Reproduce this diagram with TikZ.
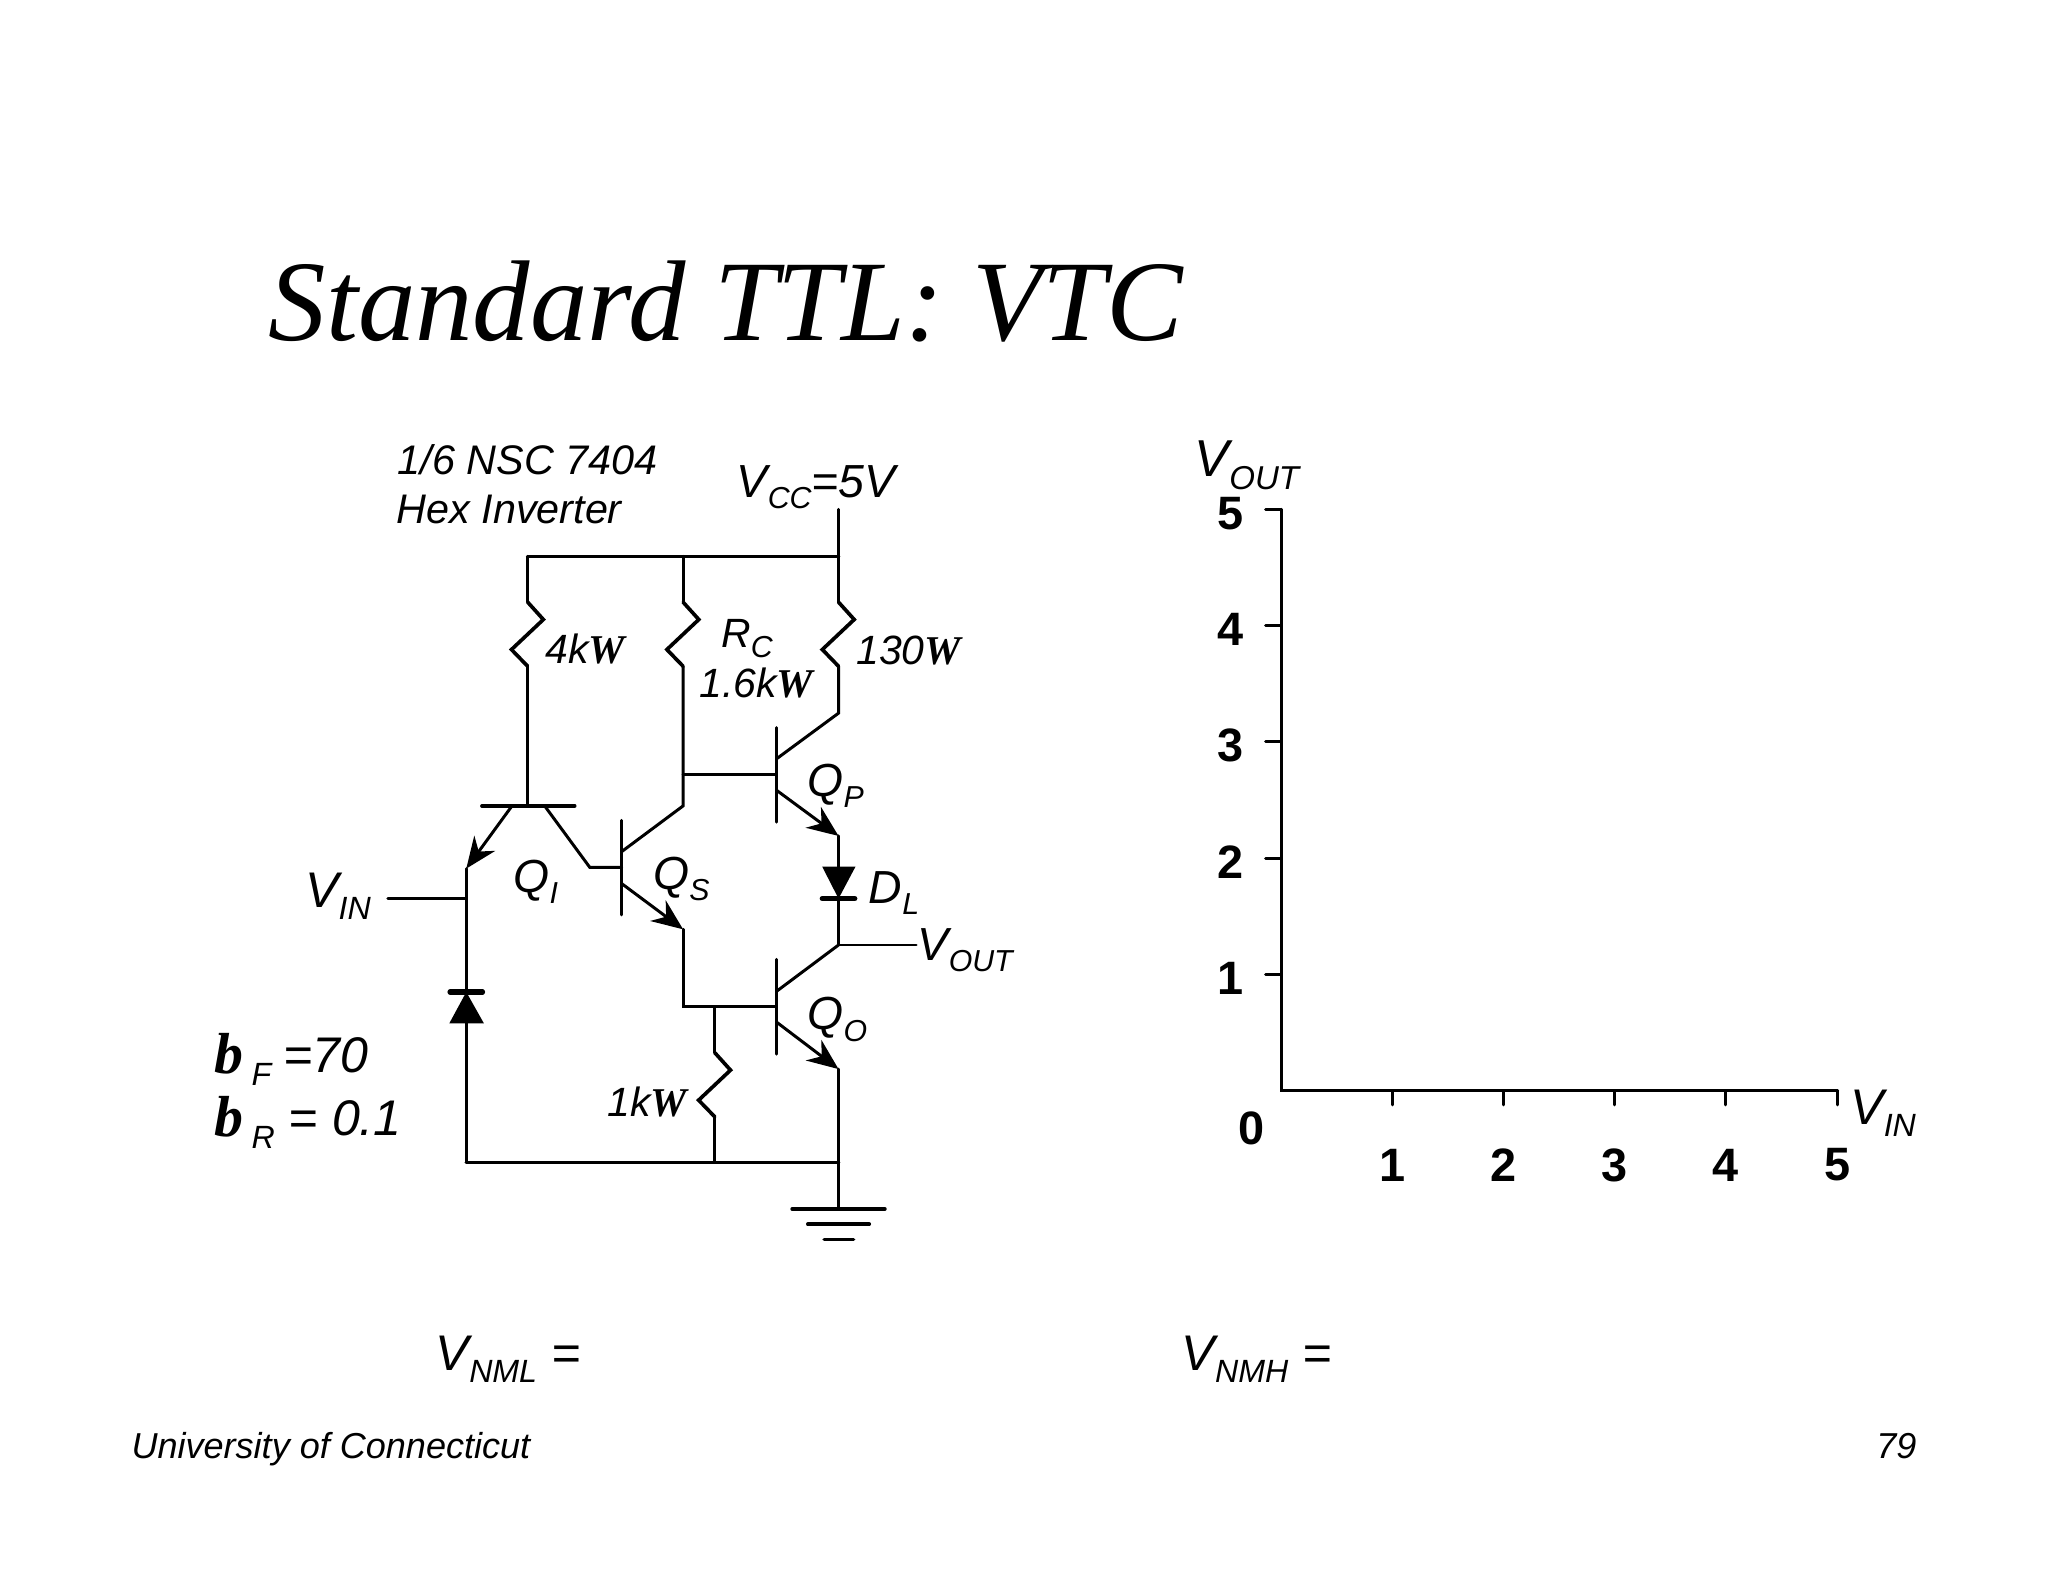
\documentclass[tikz,border=0pt]{standalone}
\usepackage{fontspec}
\setmainfont{Liberation Sans}
\newfontfamily\ttlfont{Liberation Serif}
\usetikzlibrary{arrows.meta}
\newcommand{\vsub}[3][6.6]{#2\raisebox{-0.24em}{\fontsize{#1}{8}\selectfont #3}}
\newcommand{\ohm}{{\ttlfont\bfseries W}}
\newcommand{\bsym}{{\fontsize{12.6}{14}\selectfont\ttlfont\bfseries b}\,}
\newcommand{\rzig}{-- ++(12,13.3) -- ++(-24.4,23) -- ++(12.4,12.8)}
\tikzset{
  wire/.style={black,line width=0.65pt,line cap=round,line join=miter},
  heavy/.style={black,line width=0.8pt,line cap=round},
  bar/.style={black,line width=1.1pt,line cap=round},
  emit/.style={wire,-{Stealth[length=6.8pt,width=5.6pt,inset=2.2pt]}},
  diodefill/.style={fill=black,draw=none},
  lbl/.style={anchor=base west,font=\fontsize{8.9}{10}\selectfont\itshape},
  big/.style={anchor=base west,font=\fontsize{10.1}{12}\selectfont\itshape},
  bigv/.style={anchor=base west,font=\fontsize{10.9}{12}\selectfont\itshape},
  num/.style={anchor=center,font=\fontsize{10.2}{12}\selectfont\bfseries},
  foot/.style={font=\fontsize{7.85}{10}\selectfont\itshape},
}
\begin{document}
\begin{tikzpicture}[x=0.01cm,y=-0.01cm]
            \tikzstyle{every node}+=[inner sep=0pt]
                \useasboundingbox (0,0) rectangle (1568,1211);
                \draw (205,261) node (title) [anchor=base west,font=\fontsize{25}{30}\selectfont\ttlfont\itshape] {Standard TTL: VTC};
                \draw (304,363) node (part) [lbl,font=\fontsize{9}{10}\selectfont\itshape] {1/6 NSC 7404};
                \draw (303,401) node (hex) [lbl,font=\fontsize{9}{10}\selectfont\itshape] {Hex Inverter};
                \draw (563.5,381) node (vcc) [big] {\vsub{V}{CC}=5V};
                % supply rail and the three resistors
                \coordinate (rl) at (404,426);
                \coordinate (rm) at (523,426);
                \coordinate (rr) at (642,426);
                \draw [heavy] (rl) -- (rr);
                \draw [wire] (642,390) -- (rr);
                \draw [wire] (rl) -- (404,461);
                \draw [heavy] (404,461) \rzig;
                \draw [wire] (404,510) -- (404,617);
                \draw [wire] (rm) -- (523,461);
                \draw [heavy] (523,461) \rzig;
                \draw [wire] (523,510) -- (523,617) -- (476,652);
                \draw [wire] (rr) -- (642,461);
                \draw [heavy] (642,461) \rzig;
                \draw [wire] (642,510) -- (642,546) -- (594.5,581);
                \draw (417,508) node (r4k) [lbl] {4k\ohm};
                \draw (551.5,496) node (rc) [lbl] {\vsub{R}{C}};
                \draw (535,534) node (r16k) [lbl] {1.6k\ohm};
                \draw (655,509) node (r130) [lbl] {130\ohm};
                % QP
                \draw [wire] (594.5,557) -- (594.5,629.5);
                \draw [wire] (523,593) -- (594.5,593);
                \draw [emit] (594.5,605) -- (642,640);
                \draw (617.5,610) node (qp) [big] {\vsub{Q}{P}};
                % diode DL
                \coordinate (dlt) at (642,640);
                \coordinate (dlb) at (642,688);
                \coordinate (vo) at (642,723.5);
                \draw [wire] (dlt) -- (dlb) -- (vo) -- (701.5,723.5);
                \draw [diodefill] (629.5,663.5) -- (655,663.5) -- (dlb) -- cycle;
                \draw [bar] (629.5,688) -- (654.5,688);
                \draw (664.5,692) node (dl) [big] {\vsub{D}{L}};
                \draw (702,735) node (vout) [big] {\vsub{V}{OUT}};
                % QI
                \draw [heavy] (369,617) -- (440,617);
                \draw [emit] (392,617) -- (357,665);
                \draw [wire] (417,617) -- (451.5,664) -- (476,664);
                \draw (392.5,683) node (qi) [big] {\vsub{Q}{I}};
                % QS
                \draw [wire] (476,628) -- (476,700.5);
                \draw [emit] (476,676.5) -- (523,711.5);
                \draw (499.5,681) node (qs) [big] {\vsub{Q}{S}};
                \coordinate (qob) at (594.5,770.7);
                \draw [wire] (523,711.5) -- (523,770.7) -- (qob);
                % QO
                \draw [wire] (594.5,734.5) -- (594.5,807);
                \draw [wire] (594.5,759) -- (vo);
                \draw [emit] (594.5,782.5) -- (642,818.5);
                \draw (617.5,788.5) node (qo) [big] {\vsub{Q}{O}};
                % bottom rail, input and ground
                \coordinate (bl) at (357,890);
                \coordinate (bm) at (547.3,890);
                \coordinate (brr) at (642,890);
                \coordinate (gnd) at (642,925.6);
                \draw [heavy] (bl) -- (brr);
                \draw [wire] (547.3,770.7) -- (547.3,806);
                \draw [heavy] (547.3,806) \rzig;
                \draw [wire] (547.3,855) -- (bm);
                \draw [wire] (642,818.5) -- (brr) -- (gnd);
                \draw [wire] (357,665) -- (bl);
                \draw [wire] (297,688) -- (357,688);
                \draw (233,695) node (vin) [bigv] {\vsub[7]{V}{IN}};
                \draw [diodefill] (357,759.5) -- (370.5,783.5) -- (344,783.5) -- cycle;
                \draw [bar] (344.5,759.5) -- (369.5,759.5);
                \draw [heavy] (606.5,925.6) -- (677.5,925.6);
                \draw [heavy] (618.5,937.3) -- (665.5,937.3);
                \draw [heavy] (631,949) -- (653.5,949);
                \draw (464.5,855) node (r1k) [lbl] {1k\ohm};
                \draw (163.5,822) node (bf) [bigv] {\bsym\vsub[7]{}{F}};
                \draw (216.5,821) node (bfv) [bigv] {=70};
                \draw (163.5,870) node (br) [bigv] {\bsym\vsub[7]{}{R}};
                \draw (220.5,869) node (brv) [bigv] {= 0.1};
                % transfer plot axes
                \draw [wire] (981,390) -- (981,835) -- (1407,835);
                \foreach \lab/\yy in {5/390,4/479,3/568,2/657,1/746}
                    \draw [wire] (969,\yy) -- (981,\yy) (942,\yy+3) node (y\lab) [num] {\lab};
                \foreach \lab/\xx in {1/1066,2/1151,3/1236,4/1321,5/1407}
                    \draw [wire] (\xx,835) -- (\xx,846) (\xx,892) node (x\lab) [num] {\lab};
                \draw (958,864) node (x0) [num] {0};
                \draw (914,365) node (vouty) [anchor=base west,font=\fontsize{11.3}{12}\selectfont\itshape] {\vsub[7.2]{V}{OUT}};
                \draw (1416,861) node (vinx) [bigv] {\vsub[7]{V}{IN}};
                \draw (333,1049) node (vnml) [bigv] {\vsub[7]{V}{NML} =};
                \draw (904,1049) node (vnmh) [bigv] {\vsub[7]{V}{NMH} =};
                \draw (100,1117) node (uconn) [anchor=base west,foot] {University of Connecticut};
                \draw (1468,1117) node (pageno) [anchor=base east,foot] {79};
            \end{tikzpicture}
\end{document}
